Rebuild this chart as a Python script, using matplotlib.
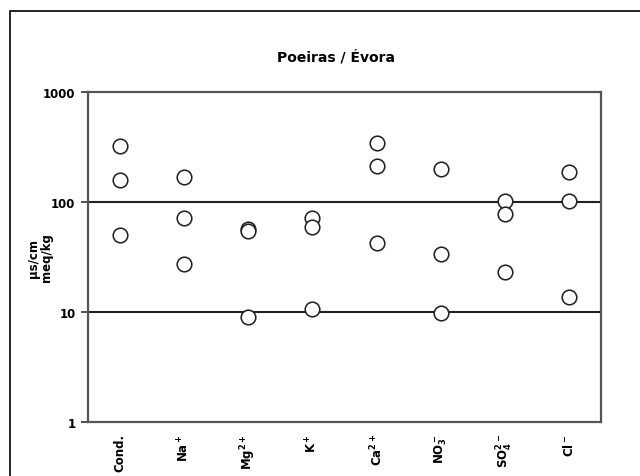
import numpy as np
import matplotlib
matplotlib.use("Agg")
import matplotlib.pyplot as plt
from matplotlib.patches import Rectangle

plt.rcParams['font.family'] = ['DejaVu Sans']
plt.rcParams['mathtext.fontset'] = 'custom'
plt.rcParams['mathtext.rm'] = 'DejaVu Sans:bold'
plt.rcParams['mathtext.it'] = 'DejaVu Sans:bold'
plt.rcParams['mathtext.bf'] = 'DejaVu Sans:bold'

# parâmetros medidos nas poeiras (3 amostras)
parametros = ['Cond.', r'Na$^+$', r'Mg$^{2+}$', r'K$^+$', r'Ca$^{2+}$',
              r'NO$_3^-$', r'SO$_4^{2-}$', r'Cl$^-$']
amostra_1 = [325, 169, 57, 72, 343, 199, 103, 188]
amostra_2 = [159, 71, 55, 59, 213, 34, 78, 102]
amostra_3 = [50.5, 27.6, 9.0, 10.7, 42, 9.7, 23, 13.7]

fig = plt.figure(figsize=(6.4, 4.77), dpi=100)
ax = fig.add_axes([0.1375, 0.1132, 0.8015, 0.6918])

x = np.arange(len(parametros))
for serie in (amostra_1, amostra_2, amostra_3):
    ax.plot(x, serie, 'o', ms=10.5, mfc='white', mec='#222222', mew=1.15,
            linestyle='none', zorder=3)

ax.set_yscale('log')
ax.set_ylim(1, 1000)
ax.set_xlim(-0.5, len(parametros) - 0.5)
ax.set_yticks([1, 10, 100, 1000])
ax.set_yticklabels(['1', '10', '100', '1000'])
ax.yaxis.set_minor_locator(matplotlib.ticker.NullLocator())
ax.tick_params(axis='y', direction='out', length=5, width=1.3,
               color='#444444', labelsize=8.5, pad=4)
for lab in ax.get_yticklabels():
    lab.set_fontweight('bold')

ax.set_xticks(x)
ax.set_xticklabels(parametros, rotation=90, fontsize=8.5, fontweight='bold',
                   va='top')
ax.tick_params(axis='x', length=0, pad=8)

for v in (10, 100):
    ax.axhline(v, color='#222222', lw=1.5, zorder=1)

for s in ax.spines.values():
    s.set_color('#555555')
    s.set_linewidth(1.6)

ax.set_ylabel('µs/cm\nmeq/kg', fontsize=8.5, fontweight='bold',
              linespacing=1.0)
ax.yaxis.set_label_coords(-0.068, 0.5)
ax.set_title('Poeiras / Évora', fontsize=10, fontweight='bold', pad=23,
             x=0.483)

# moldura exterior do gráfico
fig.patches.append(Rectangle((10 / 640, -0.1), 1.2, 1 - 12 / 477 + 0.1,
                             transform=fig.transFigure, fill=False,
                             edgecolor='black', lw=1.2, clip_on=False))

plt.savefig('out.png', dpi=100)
